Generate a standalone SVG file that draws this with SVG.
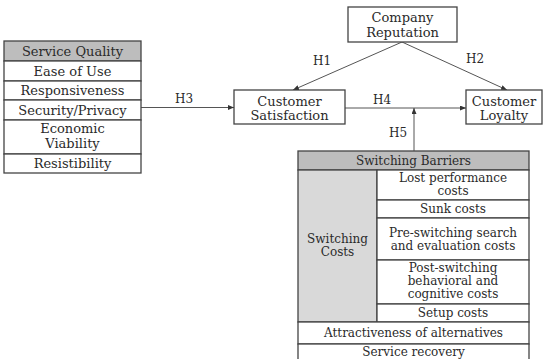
<svg xmlns="http://www.w3.org/2000/svg" width="551" height="359" viewBox="0 0 551 359">
<defs>
<style>
text{font-family:"DejaVu Serif","Liberation Serif",serif;font-size:13px;fill:#2a2a2a;text-anchor:middle}
.s{font-size:12px}
.box{fill:#fff;stroke:#444;stroke-width:1.3}
.hdr{fill:#bdbdbd;stroke:#444;stroke-width:1.3}
.lt{fill:#d9d9d9;stroke:#444;stroke-width:1.3}
.ln{stroke:#555;stroke-width:1;fill:none;marker-end:url(#ah)}
</style>
<marker id="ah" viewBox="0 0 6 5" refX="6" refY="2.5" markerWidth="6" markerHeight="5" markerUnits="userSpaceOnUse" orient="auto">
<path d="M0,0 L6,2.5 L0,5 Z" fill="#333"/>
</marker>
</defs>
<rect width="551" height="359" fill="#fff"/>
<g id="connectors">
<line class="ln" x1="141" y1="107.5" x2="234" y2="107.5"/>
<line class="ln" x1="402" y1="42" x2="293" y2="90"/>
<line class="ln" x1="402" y1="42" x2="507" y2="90"/>
<line class="ln" x1="345" y1="108" x2="466" y2="108"/>
<line class="ln" x1="414" y1="151" x2="414" y2="108"/>
<text x="184" y="103" class="s">H3</text>
<text x="322" y="65" class="s">H1</text>
<text x="475" y="63" class="s">H2</text>
<text x="382" y="104" class="s">H4</text>
<text x="398" y="137" class="s">H5</text>
</g>
<g id="service-quality">
<rect class="hdr" x="4" y="41" width="137" height="20"/>
<rect class="box" x="4" y="61" width="137" height="20"/>
<rect class="box" x="4" y="81" width="137" height="19"/>
<rect class="box" x="4" y="100" width="137" height="20"/>
<rect class="box" x="4" y="120" width="137" height="34"/>
<rect class="box" x="4" y="154" width="137" height="19"/>
<text x="72.5" y="55.5">Service Quality</text>
<text x="72.5" y="75.5">Ease of Use</text>
<text x="72.5" y="95">Responsiveness</text>
<text x="72.5" y="114.5">Security/Privacy</text>
<text x="72.5" y="133">Economic</text>
<text x="72.5" y="147.5">Viability</text>
<text x="72.5" y="168">Resistibility</text>
</g>
<g id="company-reputation">
<rect class="box" x="348" y="7" width="109" height="35"/>
<text x="402.5" y="22">Company</text>
<text x="402.5" y="37">Reputation</text>
</g>
<g id="customer-satisfaction">
<rect class="box" x="234" y="90" width="111" height="34"/>
<text x="289.5" y="105.5">Customer</text>
<text x="289.5" y="119.5">Satisfaction</text>
</g>
<g id="customer-loyalty">
<rect class="box" x="466" y="90" width="76" height="34"/>
<text x="504" y="105.5">Customer</text>
<text x="504" y="119.5">Loyalty</text>
</g>
<g id="switching-barriers">
<rect class="hdr" x="298" y="151" width="231" height="19"/>
<rect class="lt" x="298" y="170" width="79" height="152"/>
<rect class="box" x="377" y="170" width="152" height="30"/>
<rect class="box" x="377" y="200" width="152" height="18"/>
<rect class="box" x="377" y="218" width="152" height="42"/>
<rect class="box" x="377" y="260" width="152" height="44"/>
<rect class="box" x="377" y="304" width="152" height="18"/>
<rect class="box" x="298" y="322" width="231" height="22"/>
<rect class="box" x="298" y="344" width="231" height="20"/>
<text class="s" x="413.5" y="165">Switching Barriers</text>
<text class="s" x="337.5" y="243">Switching</text>
<text class="s" x="337.5" y="256">Costs</text>
<text class="s" x="453" y="182">Lost performance</text>
<text class="s" x="453" y="195">costs</text>
<text class="s" x="453" y="213">Sunk costs</text>
<text class="s" x="453" y="237">Pre-switching search</text>
<text class="s" x="453" y="250">and evaluation costs</text>
<text class="s" x="453" y="272">Post-switching</text>
<text class="s" x="453" y="285">behavioral and</text>
<text class="s" x="453" y="298">cognitive costs</text>
<text class="s" x="453" y="317">Setup costs</text>
<text class="s" x="413.5" y="337">Attractiveness of alternatives</text>
<text class="s" x="413.5" y="356">Service recovery</text>
</g>
</svg>
